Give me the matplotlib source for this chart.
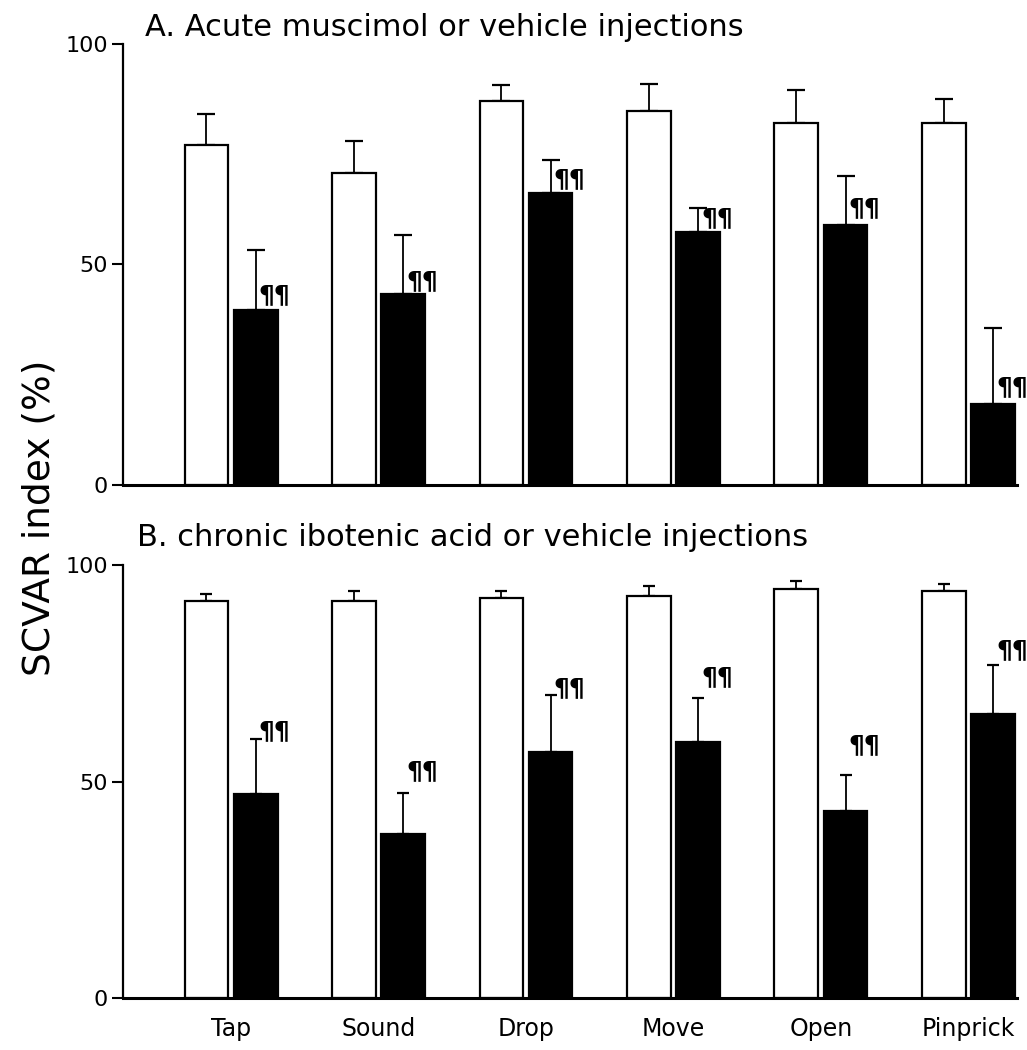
import numpy as np
import matplotlib
matplotlib.use('Agg')
import matplotlib.pyplot as plt
from matplotlib import font_manager

# test names along the x axis
tests = ['Tap', 'Sound', 'Drop', 'Move', 'Open', 'Pinprick']

# panel A: acute muscimol / vehicle (mean and upper error)
a_vehicle = [77, 70.7, 87, 84.8, 82, 82]
a_vehicle_err = [7.2, 7.3, 3.8, 6.1, 7.6, 5.5]
a_drug = [39.7, 43.2, 66.3, 57.4, 59, 18.4]
a_drug_err = [13.6, 13.4, 7.4, 5.5, 11, 17.2]
a_mark = [43.1, 46.3, 69.4, 60.5, 62.7, 22.2]

# panel B: chronic ibotenic acid / vehicle
b_vehicle = [91.7, 91.7, 92.4, 92.8, 94.5, 94]
b_vehicle_err = [1.6, 2.3, 1.6, 2.4, 1.8, 1.6]
b_drug = [47.1, 37.9, 56.8, 59.1, 43.2, 65.6]
b_drug_err = [12.7, 9.4, 13.2, 10.2, 8.3, 11.3]
b_mark = [61.6, 52.5, 71.6, 74.2, 58.4, 80.4]

names = {f.name for f in font_manager.fontManager.ttflist}
narrow = 'Liberation Sans Narrow' if 'Liberation Sans Narrow' in names else 'DejaVu Sans'

fig = plt.figure(figsize=(10.27, 10.5), dpi=100)
axA = fig.add_axes([0.1198, 0.5381, 0.8705, 0.42])
axB = fig.add_axes([0.1198, 0.0495, 0.8705, 0.4124])

x = np.arange(len(tests))
off = 0.167
w = 0.296


def panel(ax, veh, veh_err, drug, drug_err, mark, cap):
    ax.bar(x - off, veh, w, color='white', edgecolor='black', linewidth=1.6, zorder=2)
    ax.bar(x + off, drug, w, color='black', edgecolor='black', linewidth=1.6, zorder=2)
    ax.errorbar(x - off, veh, yerr=[np.zeros(len(x)), veh_err], fmt='none',
                ecolor='black', elinewidth=1.3, capsize=cap, capthick=1.6, zorder=1)
    ax.errorbar(x + off, drug, yerr=[np.zeros(len(x)), drug_err], fmt='none',
                ecolor='black', elinewidth=1.3, capsize=cap, capthick=1.6, zorder=1)
    for xi, yi in zip(x + off + 0.02, mark):
        ax.text(xi, yi, '\u00b6\u00b6', ha='left', va='center', fontsize=18,
                fontweight='bold', color='black')
    ax.set_xlim(-0.733, 5.33)
    ax.set_ylim(0, 100)
    ax.set_yticks([0, 50, 100])
    ax.spines['top'].set_visible(False)
    ax.spines['right'].set_visible(False)
    ax.spines['left'].set_linewidth(1.6)
    ax.spines['bottom'].set_linewidth(2.2)
    ax.tick_params(axis='y', length=8, width=1.5, pad=3, labelsize=16)
    ax.tick_params(axis='x', length=0)


panel(axA, a_vehicle, a_vehicle_err, a_drug, a_drug_err, a_mark, 6.5)
panel(axB, b_vehicle, b_vehicle_err, b_drug, b_drug_err, b_mark, 4.3)

axA.set_xticks([])
axB.set_xticks(x)
axB.set_xticklabels(tests, fontsize=17, family=narrow)
axB.tick_params(axis='x', pad=14)

fig.text(145 / 1027, 1 - 28 / 1050, 'A. Acute muscimol or vehicle injections',
         fontsize=22, ha='left', va='center')
fig.text(137 / 1027, 1 - 537 / 1050, 'B. chronic ibotenic acid or vehicle injections',
         fontsize=22, ha='left', va='center')
fig.text(40 / 1027, 1 - 518 / 1050, 'SCVAR index (%)', fontsize=27,
         rotation=90, ha='center', va='center')

fig.savefig('out.png', dpi=100)
